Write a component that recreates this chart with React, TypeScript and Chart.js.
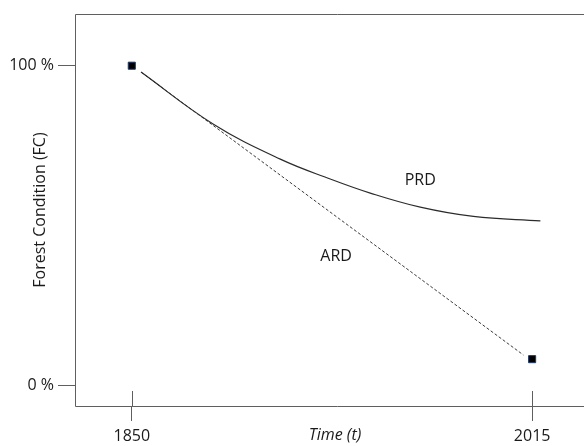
import React, { useEffect, useRef } from "react";
import { Chart, registerables } from "chart.js";

Chart.register(...registerables);

// ---- data ----
const xTickYears = [1850, 2015];
const yTickValues = [0, 100];
const prdYears = [1853.8, 1883.5, 1911.2, 1931.8, 1948.3, 1968.9, 1990.8, 2018.4];
const prdValues = [98.0, 81.8, 70.8, 64.6, 60.2, 55.8, 52.9, 51.5];
const ardYears = [1853.8, 2011.4];
const ardValues = [98.0, 9.6];
const markerYears = [1850, 2015];
const markerValues = [100, 8.3];
const labelTexts = ["PRD", "ARD"];
const labelYears = [1968.9, 1934.2];
const labelValues = [64.0, 40.5];
const xTitle = "Time (t)";
const yTitle = "Forest Condition (FC)";

const FONT = "'Open Sans', 'Noto Sans', sans-serif";
const AXIS_COLOR = "#5f5f5f";
const TEXT_COLOR = "#1a1a1a";

const decorPlugin = {
  id: "decor",
  beforeDatasetsDraw(chart: any) {
    const { ctx, chartArea } = chart;
    const { left, top, bottom } = chartArea;
    ctx.save();
    ctx.strokeStyle = AXIS_COLOR;
    ctx.lineWidth = 1;
    ctx.beginPath();
    ctx.moveTo(Math.round(left) + 0.5, Math.round(bottom) + 0.5);
    ctx.lineTo(Math.round(left) + 0.5, Math.round(top) + 0.5);
    ctx.lineTo(chart.width, Math.round(top) + 0.5);
    ctx.moveTo(Math.round(left) + 0.5, Math.round(bottom) + 0.5);
    ctx.lineTo(chart.width, Math.round(bottom) + 0.5);
    const xs = chart.scales.x;
    xTickYears.forEach((v) => {
      const px = Math.round(xs.getPixelForValue(v)) + 0.5;
      ctx.moveTo(px, Math.round(bottom) - 15);
      ctx.lineTo(px, Math.round(bottom));
    });
    ctx.stroke();
    ctx.restore();
  },
  afterDraw(chart: any) {
    const { ctx, chartArea } = chart;
    const xs = chart.scales.x;
    const ys = chart.scales.y;
    ctx.save();
    ctx.fillStyle = TEXT_COLOR;
    ctx.textAlign = "center";
    ctx.textBaseline = "middle";
    ctx.font = `16px ${FONT}`;
    labelTexts.forEach((t, i) => {
      ctx.fillText(t, xs.getPixelForValue(labelYears[i]), ys.getPixelForValue(labelValues[i]));
    });
    ctx.font = `italic 16px ${FONT}`;
    ctx.fillText(xTitle, 335, 435);
    ctx.font = `16px ${FONT}`;
    ctx.translate(40, (chartArea.top + chartArea.bottom) / 2);
    ctx.rotate(-Math.PI / 2);
    ctx.fillText(yTitle, 0, 0);
    ctx.restore();
  },
};

export default function App() {
  const ref = useRef<HTMLCanvasElement>(null);
  useEffect(() => {
    document.body.style.margin = "0";
    const canvas = ref.current!;
    const chart = new Chart(canvas, {
      type: "scatter",
      data: {
        datasets: [
          {
            label: "PRD",
            data: prdYears.map((x, i) => ({ x, y: prdValues[i] })),
            showLine: true,
            borderColor: "#2b2b2b",
            borderWidth: 1.2,
            pointRadius: 0,
            tension: 0.4,
          } as any,
          {
            label: "ARD",
            data: ardYears.map((x, i) => ({ x, y: ardValues[i] })),
            showLine: true,
            borderColor: "#3a3a3a",
            borderWidth: 1,
            borderDash: [3, 2],
            pointRadius: 0,
          },
          {
            label: "markers",
            data: markerYears.map((x, i) => ({ x, y: markerValues[i] })),
            showLine: false,
            pointStyle: "rect",
            pointRadius: 5,
            backgroundColor: "#000000",
            borderColor: "#1f3864",
            borderWidth: 1,
          },
        ],
      },
      options: {
        responsive: false,
        animation: false,
        layout: { padding: { top: 14, right: 0, left: 0, bottom: 0 } },
        plugins: {
          legend: { display: false },
          tooltip: { enabled: false },
        },
        scales: {
          x: {
            type: "linear",
            min: 1826.6,
            max: 2040.5,
            afterBuildTicks: (s: any) => {
              s.ticks = xTickYears.map((v) => ({ value: v }));
            },
            afterFit: (s: any) => {
              s.height = 40;
            },
            border: { display: false },
            grid: {
              display: true,
              drawOnChartArea: false,
              drawTicks: true,
              tickLength: 15,
              color: AXIS_COLOR,
              tickColor: AXIS_COLOR,
            },
            ticks: {
              padding: 6,
              color: TEXT_COLOR,
              font: { family: FONT, size: 16 },
              maxRotation: 0,
              callback: (v: any) => String(v),
            },
          },
          y: {
            type: "linear",
            min: -6.34,
            max: 116.16,
            afterBuildTicks: (s: any) => {
              s.ticks = yTickValues.map((v) => ({ value: v }));
            },
            afterFit: (s: any) => {
              s.width = 75;
            },
            border: { display: false },
            grid: {
              display: true,
              drawOnChartArea: false,
              drawTicks: true,
              tickLength: 17,
              color: AXIS_COLOR,
              tickColor: AXIS_COLOR,
            },
            ticks: {
              padding: 4,
              color: TEXT_COLOR,
              font: { family: FONT, size: 16 },
              callback: (v: any) => `${v} %`,
            },
          },
        },
      },
      plugins: [decorPlugin],
    });
    return () => chart.destroy();
  }, []);
  return (
    <div style={{ position: "fixed", left: 0, top: 0, width: 584, height: 446, overflow: "hidden" }}>
      <canvas ref={ref} width={600} height={446} style={{ display: "block" }} />
    </div>
  );
}
